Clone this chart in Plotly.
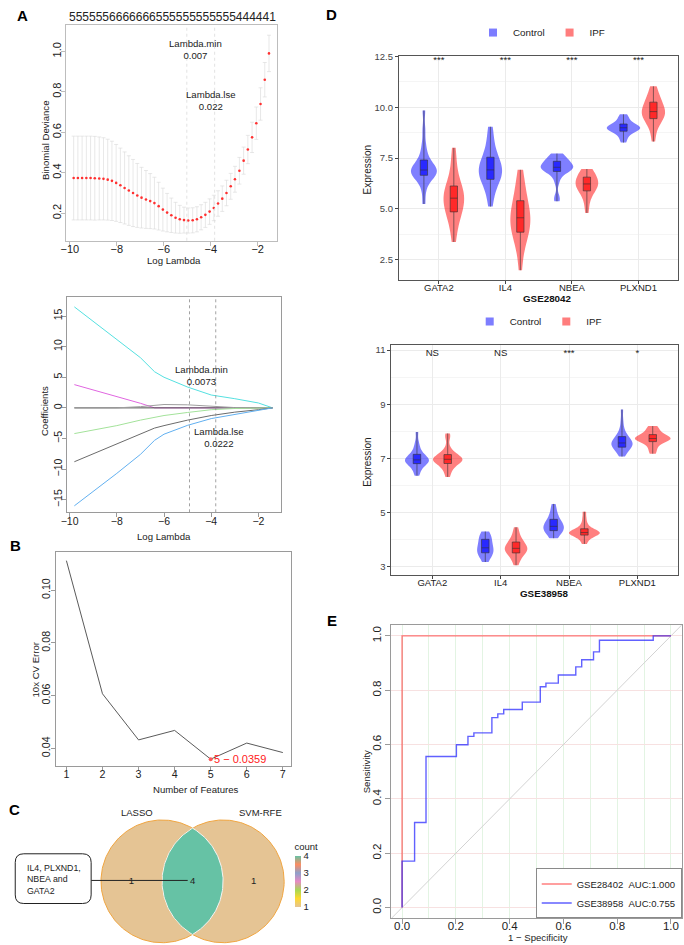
import numpy as np
import plotly.graph_objects as go
from plotly.colors import sample_colorscale

W, H = 684, 945
FONT = "Liberation Sans, Arial, Helvetica, sans-serif"

# ============================ DATA ============================
# --- A (top): LASSO 10-fold cross-validation (binomial deviance) ---
cv_log_lambda = [-9.84, -9.66, -9.48, -9.30, -9.12, -8.94, -8.75, -8.57, -8.39, -8.21,
                 -8.03, -7.85, -7.67, -7.49, -7.31, -7.13, -6.95, -6.76, -6.58, -6.40,
                 -6.22, -6.04, -5.86, -5.68, -5.50, -5.32, -5.14, -4.96, -4.77, -4.59,
                 -4.41, -4.23, -4.05, -3.87, -3.69, -3.51, -3.33, -3.15, -2.97, -2.78,
                 -2.60, -2.42, -2.24, -2.06, -1.88, -1.70, -1.52]
cv_deviance = [0.374, 0.374, 0.374, 0.374, 0.374, 0.373, 0.372, 0.370, 0.366, 0.360,
               0.350, 0.338, 0.325, 0.312, 0.300, 0.288, 0.277, 0.268, 0.260, 0.250,
               0.235, 0.218, 0.203, 0.190, 0.178, 0.170, 0.166, 0.164, 0.165, 0.170,
               0.180, 0.192, 0.208, 0.226, 0.248, 0.272, 0.300, 0.333, 0.368, 0.410,
               0.460, 0.515, 0.575, 0.645, 0.740, 0.860, 0.990]
cv_sd = [0.207, 0.207, 0.207, 0.207, 0.207, 0.207, 0.205, 0.203, 0.200, 0.196,
         0.190, 0.184, 0.178, 0.172, 0.166, 0.158, 0.150, 0.143, 0.136, 0.128,
         0.118, 0.106, 0.095, 0.085, 0.076, 0.069, 0.064, 0.062, 0.062, 0.062,
         0.062, 0.062, 0.063, 0.063, 0.063, 0.063, 0.063, 0.064, 0.064, 0.066,
         0.067, 0.070, 0.075, 0.080, 0.080, 0.085, 0.090]
cv_nonzero = "5555556666666555555555555444441"
cv_lambda_min = 0.0066
cv_lambda_1se = 0.0216

# --- A (bottom): LASSO coefficient profiles ---
path_log_lambda = [-9.8, -9.0, -8.0, -7.0, -6.4, -6.0, -5.0, -4.0, -3.0, -2.0, -1.4]
coef_1 = [16.5, 14.1, 11.1, 8.2, 5.9, 5.0, 3.4, 2.1, 1.5, 0.8, 0.0]
coef_2 = [3.8, 2.95, 1.85, 0.75, 0.0, 0.0, 0.0, 0.0, 0.0, 0.0, 0.0]
coef_3 = [0.0, 0.0, 0.0, 0.0, 0.0, 0.0, 0.0, 0.0, 0.0, 0.0, 0.0]
coef_4 = [0.0, 0.0, 0.0, 0.2, 0.45, 0.55, 0.5, 0.3, 0.05, 0.0, 0.0]
coef_5 = [-4.2, -3.6, -2.9, -2.0, -1.5, -1.25, -0.75, -0.3, -0.1, -0.02, 0.0]
coef_6 = [-8.8, -7.5, -5.8, -4.2, -3.3, -2.9, -2.0, -1.25, -0.7, -0.3, 0.0]
coef_7 = [-16.0, -13.7, -10.7, -7.6, -5.3, -4.3, -2.85, -1.75, -1.05, -0.45, 0.0]
path_df_ticks = [-10, -8, -6, -4, -2]
path_df_labels = ["5", "6", "5", "5", "4"]
path_lambda_min = 0.0073
path_lambda_1se = 0.0222

# --- B: SVM-RFE cross-validation error ---
svm_n_features = [1, 2, 3, 4, 5, 6, 7]
svm_cv_error = [0.1112, 0.0607, 0.0432, 0.0468, 0.0359, 0.0420, 0.0384]

# --- C: Venn of selected genes ---
venn_names = ["LASSO", "SVM-RFE"]
venn_counts = [1, 4, 1]          # LASSO only, shared, SVM-RFE only
venn_shared_genes = ["IL4", "PLXND1", "NBEA", "GATA2"]

# --- D: expression of the 4 hub genes ---
genes = ["GATA2", "IL4", "NBEA", "PLXND1"]
groups = ["Control", "IPF"]
gse28042_control = [
    [5.24, 5.9, 6.3, 6.5, 6.62, 6.68, 6.72, 6.78, 6.83, 6.88, 6.94, 7.0, 7.08, 7.18, 7.31, 7.5, 7.8, 8.2, 8.9, 9.84],
    [5.11, 5.6, 5.95, 6.2, 6.4, 6.5, 6.6, 6.72, 6.82, 6.88, 6.95, 7.05, 7.2, 7.35, 7.48, 7.6, 7.85, 8.2, 8.6, 9.04],
    [5.37, 5.6, 6.3, 6.6, 6.8, 6.88, 6.93, 6.97, 7.0, 7.03, 7.06, 7.1, 7.15, 7.22, 7.3, 7.38, 7.45, 7.52, 7.6, 7.72],
    [8.26, 8.45, 8.6, 8.72, 8.8, 8.84, 8.88, 8.92, 8.95, 8.98, 9.0, 9.03, 9.06, 9.1, 9.15, 9.2, 9.3, 9.4, 9.52, 9.65],
]
gse28042_ipf = [
    [3.37, 3.9, 4.3, 4.6, 4.8, 4.9, 5.05, 5.2, 5.35, 5.45, 5.6, 5.7, 5.8, 5.92, 6.05, 6.2, 6.5, 6.9, 7.4, 8.0],
    [1.98, 2.8, 3.3, 3.6, 3.8, 3.9, 4.05, 4.2, 4.4, 4.5, 4.62, 4.75, 4.9, 5.1, 5.3, 5.5, 5.8, 6.1, 6.5, 6.92],
    [4.8, 5.2, 5.5, 5.7, 5.85, 5.92, 6.0, 6.08, 6.15, 6.2, 6.25, 6.3, 6.38, 6.45, 6.52, 6.6, 6.7, 6.8, 6.9, 6.96],
    [8.31, 8.8, 9.1, 9.3, 9.4, 9.48, 9.56, 9.63, 9.7, 9.75, 9.82, 9.9, 10.0, 10.1, 10.2, 10.3, 10.45, 10.6, 10.8, 11.03],
]
gse28042_sig = ["***", "***", "***", "***"]
gse38958_control = [
    [6.35, 6.5, 6.62, 6.72, 6.78, 6.82, 6.85, 6.88, 6.91, 6.93, 6.95, 6.98, 7.02, 7.07, 7.11, 7.18, 7.28, 7.42, 7.6, 7.97],
    [3.16, 3.25, 3.35, 3.42, 3.48, 3.52, 3.55, 3.58, 3.6, 3.65, 3.72, 3.8, 3.87, 3.92, 3.97, 4.03, 4.1, 4.17, 4.23, 4.29],
    [4.04, 4.12, 4.2, 4.26, 4.3, 4.34, 4.38, 4.42, 4.44, 4.46, 4.5, 4.55, 4.6, 4.66, 4.7, 4.78, 4.88, 5.0, 5.15, 5.31],
    [7.06, 7.18, 7.28, 7.34, 7.39, 7.43, 7.47, 7.5, 7.53, 7.55, 7.58, 7.62, 7.67, 7.72, 7.76, 7.84, 7.95, 8.1, 8.4, 8.8],
]
gse38958_ipf = [
    [6.31, 6.5, 6.62, 6.72, 6.78, 6.83, 6.87, 6.9, 6.93, 6.95, 6.97, 7.0, 7.03, 7.07, 7.11, 7.16, 7.25, 7.4, 7.75, 7.92],
    [3.04, 3.2, 3.32, 3.42, 3.47, 3.52, 3.56, 3.6, 3.63, 3.65, 3.68, 3.72, 3.78, 3.83, 3.87, 3.93, 4.02, 4.12, 4.28, 4.45],
    [3.83, 3.95, 4.05, 4.1, 4.14, 4.17, 4.19, 4.21, 4.23, 4.24, 4.26, 4.28, 4.31, 4.33, 4.36, 4.42, 4.5, 4.62, 4.8, 5.02],
    [7.17, 7.3, 7.42, 7.52, 7.6, 7.63, 7.66, 7.69, 7.71, 7.72, 7.74, 7.76, 7.79, 7.82, 7.85, 7.9, 7.96, 8.04, 8.12, 8.19],
]
gse38958_sig = ["NS", "NS", "***", "*"]

# --- E: ROC curves ---
roc_names = ["GSE28402", "GSE38958"]
roc_auc = [1.000, 0.755]
roc1_fpr = [0.0, 0.0, 1.0]
roc1_tpr = [0.0, 1.0, 1.0]
roc2_fpr = [0.0, 0.0, 0.0465, 0.089, 0.202, 0.245, 0.267, 0.334, 0.356, 0.378, 0.447,
            0.514, 0.535, 0.581, 0.646, 0.668, 0.712, 0.734, 0.934, 1.0]
roc2_tpr = [0.0, 0.171, 0.313, 0.556, 0.599, 0.630, 0.643, 0.699, 0.713, 0.729, 0.756,
            0.813, 0.826, 0.856, 0.886, 0.912, 0.941, 0.984, 1.0, 1.0]

# ============================ STYLE ============================
# maximum violin widths (x units), per gene, as drawn in the figure
vw_28042 = {"Control": [0.39, 0.35, 0.49, 0.50], "IPF": [0.31, 0.30, 0.34, 0.35]}
vw_38958 = {"Control": [0.35, 0.24, 0.30, 0.31], "IPF": [0.43, 0.33, 0.45, 0.52]}


# ============================ HELPERS ============================
def dom_x(a, b):
    return [a / W, b / W]


def dom_y(top, bottom):
    return [1 - bottom / H, 1 - top / H]


def r_axis(domain, rng, color, size=11, **kw):
    d = dict(domain=domain, range=rng, showline=True, mirror=True, linecolor=color, linewidth=1,
             ticks="outside", ticklen=4, tickwidth=1, tickcolor=color,
             tickfont=dict(family=FONT, size=size, color="#222"),
             showgrid=False, zeroline=False, fixedrange=True)
    d.update(kw)
    return d


annotations = []
shapes = []


def ptxt(text, px, py, size=9.6, color="#222", bold=False, angle=0, xanchor="center",
         yanchor="middle", align="center"):
    if bold:
        text = f"<b>{text}</b>"
    annotations.append(dict(text=text, x=px / W, y=1 - py / H, xref="paper", yref="paper",
                            showarrow=False, font=dict(family=FONT, size=size, color=color),
                            textangle=angle, xanchor=xanchor, yanchor=yanchor, align=align))


def dtxt(text, x, y, xref, yref, size=9.7, color="#222", xanchor="center", yanchor="middle",
         align="center"):
    annotations.append(dict(text=text, x=x, y=y, xref=xref, yref=yref, showarrow=False,
                            font=dict(family=FONT, size=size, color=color),
                            xanchor=xanchor, yanchor=yanchor, align=align))


fig = go.Figure()

# ============================ PANEL A (top) ============================
fig.add_trace(go.Scatter(
    x=cv_log_lambda, y=cv_deviance, mode="markers",
    marker=dict(color="#FF3030", size=2.6),
    error_y=dict(type="data", array=cv_sd, symmetric=True, color="#D9D9D9", thickness=0.6, width=2),
    xaxis="x", yaxis="y", showlegend=False, hoverinfo="skip"))
for lam in (cv_lambda_min, cv_lambda_1se):
    shapes.append(dict(type="line", xref="x", yref="y domain", x0=np.log(lam), x1=np.log(lam),
                       y0=0, y1=1, line=dict(color="#DADADA", width=0.8, dash="dot")))
dtxt(f"Lambda.min<br>{cv_lambda_min:.3f}", -4.67, 1.008, "x", "y", size=9.6)
dtxt(f"Lambda.lse<br>{cv_lambda_1se:.3f}", -3.97, 0.756, "x", "y", size=9.6)
ptxt(cv_nonzero, 167, 12.5, size=12)
ptxt("Log Lambda", 168.3, 257)
ptxt("Binomial Deviance", 38.3, 135.8, angle=-90)

# ============================ PANEL A (bottom) ============================
coef_colors = ["#55E0E0", "#E066E0", "#4D4D4D", "#9E9E9E", "#A3E29A", "#6B6B6B", "#62B0F0"]
for coefs, col in zip([coef_1, coef_2, coef_3, coef_4, coef_5, coef_6, coef_7], coef_colors):
    fig.add_trace(go.Scatter(x=path_log_lambda, y=coefs, mode="lines",
                             line=dict(color=col, width=1), xaxis="x2", yaxis="y2",
                             showlegend=False, hoverinfo="skip"))
for lam in (path_lambda_min, path_lambda_1se):
    shapes.append(dict(type="line", xref="x2", yref="y2 domain", x0=np.log(lam), x1=np.log(lam),
                       y0=0, y1=1, line=dict(color="#8A8A8A", width=0.8, dash="dot")))
dtxt(f"Lambda.min<br>{path_lambda_min:.4f}", -4.42, 5.22, "x2", "y2", size=9.6)
dtxt(f"Lambda.lse<br>{path_lambda_1se:.4f}", -3.69, -4.85, "x2", "y2", size=9.6)
ptxt("Log Lambda", 158.7, 534)
ptxt("Coefficients", 37.3, 408.3, angle=-90)

# ============================ PANEL B ============================
fig.add_trace(go.Scatter(x=svm_n_features, y=svm_cv_error, mode="lines",
                         line=dict(color="#5A5A5A", width=1), xaxis="x4", yaxis="y4",
                         showlegend=False, hoverinfo="skip"))
best_i = int(np.argmin(svm_cv_error))
fig.add_trace(go.Scatter(x=[svm_n_features[best_i]], y=[svm_cv_error[best_i]], mode="markers",
                         marker=dict(color="#FF5A5A", size=4), xaxis="x4", yaxis="y4",
                         showlegend=False, hoverinfo="skip"))
dtxt(f"{svm_n_features[best_i]} \u2212 {svm_cv_error[best_i]:.4f}", svm_n_features[best_i],
     svm_cv_error[best_i], "x4", "y4", size=11, color="#FF2020", xanchor="left")
annotations[-1]["xshift"] = 1
ptxt("Number of Features", 190.8, 788.3)
ptxt("10x CV Error", 28.3, 668, angle=-90)

# ============================ PANEL C (Venn) ============================
set2_scale = [[0.0, "rgb(229,196,148)"], [1 / 6, "rgb(255,217,47)"], [2 / 6, "rgb(166,216,84)"],
              [3 / 6, "rgb(231,138,195)"], [4 / 6, "rgb(141,160,203)"], [5 / 6, "rgb(252,141,98)"],
              [1.0, "rgb(102,194,165)"]]
cmin, cmax = 1, 4
region_cols = sample_colorscale(set2_scale, [(c - cmin) / (cmax - cmin) for c in venn_counts])
r_c, d_c = 1.0, 1.0
centres = [-d_c / 2, d_c / 2]
theta = np.linspace(0, 2 * np.pi, 241)
for cx, col in zip(centres, [region_cols[0], region_cols[2]]):
    fig.add_trace(go.Scatter(x=cx + r_c * np.cos(theta), y=r_c * np.sin(theta), mode="lines",
                             fill="toself", fillcolor=col, line=dict(color="#F0A540", width=1),
                             xaxis="x5", yaxis="y5", showlegend=False, hoverinfo="skip"))
alpha = np.arccos(d_c / (2 * r_c))
a1 = np.linspace(-alpha, alpha, 80)
a2 = np.linspace(np.pi - alpha, np.pi + alpha, 80)
lens_x = np.concatenate([centres[0] + r_c * np.cos(a1), centres[1] + r_c * np.cos(a2)])
lens_y = np.concatenate([r_c * np.sin(a1), r_c * np.sin(a2)])
fig.add_trace(go.Scatter(x=lens_x, y=lens_y, mode="lines", fill="toself", fillcolor=region_cols[1],
                         line=dict(color="#F4F4F4", width=1), xaxis="x5", yaxis="y5",
                         showlegend=False, hoverinfo="skip"))
label_x = [centres[0] - r_c / 2, 0.0, centres[1] + r_c / 2]
bx0, bx1, by0, by1, rr = -2.904, -1.661, -0.361, 0.449, 0.14
shapes.append(dict(type="line", xref="x5", yref="y5", x0=bx1, x1=label_x[1] - 0.08, y0=0.015, y1=0.015,
                   line=dict(color="#222", width=1)))
shapes.append(dict(type="path", xref="x5", yref="y5", line=dict(color="#222", width=1),
                   fillcolor="white",
                   path=(f"M {bx0 + rr},{by0} L {bx1 - rr},{by0} Q {bx1},{by0} {bx1},{by0 + rr} "
                         f"L {bx1},{by1 - rr} Q {bx1},{by1} {bx1 - rr},{by1} L {bx0 + rr},{by1} "
                         f"Q {bx0},{by1} {bx0},{by1 - rr} L {bx0},{by0 + rr} Q {bx0},{by0} {bx0 + rr},{by0} Z")))
# invisible markers carrying the count colour bar
fig.add_trace(go.Scatter(x=label_x, y=[0, 0, 0], mode="markers",
                         marker=dict(color=venn_counts, colorscale=set2_scale, cmin=cmin, cmax=cmax,
                                     showscale=True, size=2, opacity=0,
                                     colorbar=dict(x=290.5 / W, xanchor="left", y=1 - 839 / H,
                                                   yanchor="top", lenmode="pixels", len=67,
                                                   thickness=6, thicknessmode="pixels",
                                                   outlinewidth=0, xpad=0, ypad=0,
                                                   tickvals=[1, 2, 3, 4], ticks="",
                                                   tickfont=dict(family=FONT, size=9.5, color="#222"),
                                                   title=dict(text="count", side="top",
                                                              font=dict(family=FONT, size=9.5, color="#222")))),
                         xaxis="x5", yaxis="y5", showlegend=False, hoverinfo="skip"))
fig.add_trace(go.Scatter(x=label_x, y=[0, 0, 0], mode="text", text=[str(c) for c in venn_counts],
                         textfont=dict(family=FONT, size=9.5, color="#222"),
                         xaxis="x5", yaxis="y5", showlegend=False, hoverinfo="skip"))
dtxt(venn_names[0], -0.904, 1.123, "x5", "y5", size=9.5)
dtxt(venn_names[1], 1.12, 1.123, "x5", "y5", size=9.5)
g = venn_shared_genes
dtxt(f"{g[0]}, {g[1]},<br>{g[2]} and<br>{g[3]}", -2.742, 0.03, "x5", "y5", size=8.8,
     xanchor="left", align="left")

# ============================ PANEL D ============================
dodge = {"Control": -0.225, "IPF": 0.225}
violin_fill = {"Control": "rgba(0,0,255,0.5)", "IPF": "rgba(255,0,0,0.5)"}
box_fill = {"Control": "rgba(20,20,255,0.8)", "IPF": "rgba(255,20,20,0.8)"}
legend_col = {"Control": "rgb(125,125,255)", "IPF": "rgb(255,125,125)"}


def add_expression(ctrl, ipf, sig, sig_y, widths, xa, ya, legend_name):
    data = {"Control": ctrl, "IPF": ipf}
    for grp in groups:
        for i, vals in enumerate(data[grp]):
            fig.add_trace(go.Violin(y=vals, x0=i + 1 + dodge[grp], width=widths[grp][i],
                                    scalemode="width", spanmode="hard", points=False,
                                    fillcolor=violin_fill[grp], line=dict(color="rgba(0,0,0,0)", width=0),
                                    xaxis=xa, yaxis=ya, showlegend=False, hoverinfo="skip"))
    for grp in groups:
        for i, vals in enumerate(data[grp]):
            fig.add_trace(go.Box(y=vals, x0=i + 1 + dodge[grp], width=0.11, boxpoints=False,
                                 whiskerwidth=0, fillcolor=box_fill[grp],
                                 line=dict(color="#333333", width=0.6),
                                 xaxis=xa, yaxis=ya, showlegend=False, hoverinfo="skip"))
    fig.add_trace(go.Scatter(x=list(range(1, len(genes) + 1)), y=[sig_y] * len(genes), mode="text",
                             text=sig, textfont=dict(family=FONT, size=9.5, color="#222"),
                             xaxis=xa, yaxis=ya, showlegend=False, hoverinfo="skip"))
    for grp in groups:
        fig.add_trace(go.Scatter(x=[None], y=[None], mode="markers", name=grp,
                                 marker=dict(symbol="square", size=8, color=legend_col[grp]),
                                 xaxis=xa, yaxis=ya, legend=legend_name, showlegend=True))


add_expression(gse28042_control, gse28042_ipf, gse28042_sig, 12.3, vw_28042, "x6", "y6", "legend")
add_expression(gse38958_control, gse38958_ipf, gse38958_sig, 10.88, vw_38958, "x7", "y7", "legend2")
ptxt("GSE28042", 545.5, 295, size=9.8, bold=True, color="#111")
ptxt("GSE38958", 542.2, 591.7, size=9.8, bold=True, color="#111")
ptxt("Expression", 364, 166, size=10, angle=-90)
ptxt("Expression", 364, 460, size=10, angle=-90)

# ============================ PANEL E ============================
e_range = [-0.04, 1.04]
fig.add_trace(go.Scatter(x=e_range, y=e_range, mode="lines", line=dict(color="#D3D3D3", width=1),
                         xaxis="x8", yaxis="y8", showlegend=False, hoverinfo="skip"))
for fpr, tpr, nm, auc, col in [(roc1_fpr, roc1_tpr, roc_names[0], roc_auc[0], "rgba(255,40,40,0.6)"),
                               (roc2_fpr, roc2_tpr, roc_names[1], roc_auc[1], "rgba(30,30,255,0.7)")]:
    fig.add_trace(go.Scatter(x=fpr, y=tpr, mode="lines", line=dict(color=col, width=1.4, shape="hv"),
                             name=f"{nm}\u00a0\u00a0AUC:{auc:.3f}", xaxis="x8", yaxis="y8",
                             legend="legend3", hoverinfo="skip"))
ptxt("1 \u2212 Specificity", 536.7, 937.3)
ptxt("Sensitivity", 363.3, 770.8, angle=-90)

# ============================ PANEL LABELS ============================
for lab, px, py in [("A", 16, 10.5), ("B", 8.5, 543), ("C", 7.5, 809), ("D", 328, 10), ("E", 328, 618.5)]:
    ptxt(lab, px, py, size=15, bold=True, color="#000")

# ============================ LAYOUT ============================
D_GRID = "#EBEBEB"
D_MINOR = "#F5F5F5"
d_tickfont = dict(family=FONT, size=9.5, color="#444")


def d_xaxis(domain):
    return dict(domain=domain, range=[0.4, 4.6], tickvals=list(range(1, len(genes) + 1)), ticktext=genes,
                showline=True, mirror=True, linecolor="#555", linewidth=1, ticks="outside", ticklen=3,
                tickcolor="#444", tickfont=dict(family=FONT, size=9.5, color="#222"), ticklabelstandoff=-5,
                showgrid=True, gridcolor=D_GRID, zeroline=False, fixedrange=True)


def d_yaxis(domain, rng, tick0, dtick, fmt):
    return dict(domain=domain, range=rng, tick0=tick0, dtick=dtick, tickformat=fmt,
                showline=True, mirror=True, linecolor="#555", linewidth=1, ticks="outside", ticklen=3,
                tickcolor="#444", tickfont=d_tickfont, showgrid=True, gridcolor=D_GRID,
                minor=dict(tick0=tick0, dtick=dtick / 2, showgrid=True, gridcolor=D_MINOR, ticks=""),
                zeroline=False, fixedrange=True)


legend_common = dict(orientation="h", bgcolor="rgba(0,0,0,0)", itemwidth=30,
                     font=dict(family=FONT, size=9.8, color="#222"), tracegroupgap=0)

fig.update_layout(
    width=W, height=H, autosize=False, margin=dict(l=0, r=0, t=0, b=0),
    paper_bgcolor="white", plot_bgcolor="white",
    font=dict(family=FONT, size=10, color="#222"),
    boxmode="overlay", violinmode="overlay",
    xaxis=r_axis(dom_x(60, 273), [-10.15, -1.17], "#BDBDBD", anchor="y", tickvals=[-10, -8, -6, -4, -2],
                 ticklabelstandoff=-6),
    yaxis=r_axis(dom_y(20, 237), [0.064, 1.131], "#BDBDBD", anchor="x", tickvals=[0.2, 0.4, 0.6, 0.8, 1.0],
                 tickformat=".1f", tickangle=-90, ticklabelstandoff=-4),
    xaxis2=r_axis(dom_x(61, 277), [-10.096, -1.035], "#9A9A9A", size=10.5, anchor="y2",
                  tickvals=[-10, -8, -6, -4, -2], ticklabelstandoff=-5),
    yaxis2=r_axis(dom_y(294, 510), [-17.06, 18.04], "#9A9A9A", size=10.5, anchor="x2",
                  tickvals=[-15, -10, -5, 0, 5, 10, 15], tickangle=-90, ticklabelstandoff=-4),
    xaxis3=r_axis(dom_x(61, 277), [-10.096, -1.035], "#9A9A9A", size=10.5, anchor="y2", overlaying="x2",
                  side="top", tickvals=path_df_ticks, ticktext=path_df_labels, showline=False, mirror=False,
                  ticklabelstandoff=-1),
    xaxis4=r_axis(dom_x(50, 286.7), [0.725, 7.22], "#9A9A9A", size=10.7, anchor="y4", tickvals=svm_n_features,
                  ticklabelstandoff=-6),
    yaxis4=r_axis(dom_y(550, 765), [0.03332, 0.11445], "#9A9A9A", size=10.7, anchor="x4",
                  tickvals=[0.04, 0.06, 0.08, 0.10], tickformat=".2f", tickangle=-90, ticklabelstandoff=-3),
    xaxis5=dict(domain=dom_x(0, 340), range=[-3.039, 2.472], visible=False, fixedrange=True),
    yaxis5=dict(domain=dom_y(790, 945), range=[-1.037, 1.475], visible=False, fixedrange=True),
    xaxis6=dict(d_xaxis(dom_x(396, 678.3)), anchor="y6"),
    yaxis6=dict(d_yaxis(dom_y(51, 276.7), [1.487, 12.534], 0, 2.5, ".1f"), anchor="x6"),
    xaxis7=dict(d_xaxis(dom_x(388.3, 678.3)), anchor="y7"),
    yaxis7=dict(d_yaxis(dom_y(341.7, 573.3), [2.669, 11.195], 1, 2, "d"), anchor="x7"),
    xaxis8=r_axis(dom_x(388.3, 681.7), e_range, "#9A9A9A", size=11.5, anchor="y8", tick0=0, dtick=0.2,
                  tickformat=".1f", ticklen=5, ticklabelstandoff=-8,
                  showgrid=True, gridcolor="#E3F4E3",
                  minor=dict(tick0=0, dtick=0.1, showgrid=True, gridcolor="#E3F4E3", ticks="")),
    yaxis8=r_axis(dom_y(623.3, 918.3), e_range, "#9A9A9A", size=11.5, anchor="x8", tick0=0, dtick=0.2,
                  tickformat=".1f", ticklen=5, tickangle=-90, ticklabelstandoff=0,
                  showgrid=True, gridcolor="#F7E1E1"),
    legend=dict(legend_common, x=540 / W, xanchor="center", y=1 - 27.7 / H, yanchor="middle"),
    legend2=dict(legend_common, x=536.7 / W, xanchor="center", y=1 - 318.3 / H, yanchor="middle"),
    legend3=dict(x=681.7 / W, xanchor="right", y=1 - 918.3 / H, yanchor="bottom", bgcolor="white",
                 bordercolor="#8A8A8A", borderwidth=1, itemwidth=30, tracegroupgap=0,
                 font=dict(family=FONT, size=9.5, color="#222")),
    annotations=annotations, shapes=shapes,
)

fig.write_html("out.html")
